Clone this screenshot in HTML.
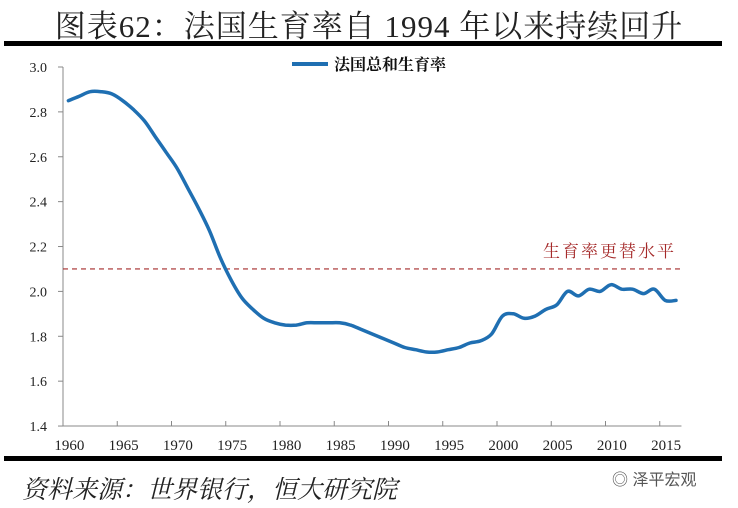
<!DOCTYPE html>
<html><head><meta charset="utf-8"><style>
body{margin:0;background:#fff;width:738px;height:508px;overflow:hidden;position:relative;font-family:"Liberation Serif","Noto Serif CJK SC",serif}
.t{position:absolute;left:0;width:738px;text-align:center;top:1px;font-size:31px;color:#222;letter-spacing:1px}
.bar{position:absolute;background:#000}
.src{position:absolute;left:22px;top:470px;font-size:25px;font-style:italic;color:#222;font-family:"Liberation Serif","Noto Serif CJK SC",serif}
.wm{position:absolute;left:612px;top:466px;font-size:16px;color:#555;font-family:"Liberation Sans","Noto Sans CJK SC",sans-serif}
</style></head><body>
<div class="t">图表62：法国生育率自 1994 年以来持续回升</div>
<div class="bar" style="left:4px;top:41px;width:718px;height:5px"></div>
<svg id="c" width="738" height="508" style="position:absolute;left:0;top:0"></svg>
<div class="bar" style="left:4px;top:456px;width:718px;height:5px"></div>
<div class="src">资料来源：世界银行，恒大研究院</div>
<div class="wm">◎ 泽平宏观</div>
<script>
const years=[];for(let y=1960;y<=2016;y++)years.push(y);
const tfr=[2.85,2.87,2.89,2.89,2.88,2.85,2.81,2.76,2.69,2.62,2.55,2.46,2.37,2.27,2.15,2.05,1.97,1.92,1.88,1.86,1.85,1.85,1.86,1.86,1.86,1.86,1.85,1.83,1.81,1.79,1.77,1.75,1.74,1.73,1.73,1.74,1.75,1.77,1.78,1.81,1.89,1.90,1.88,1.89,1.92,1.94,2.00,1.98,2.01,2.00,2.03,2.01,2.01,1.99,2.01,1.96,1.96];
const yTicks=[1.4,1.6,1.8,2.0,2.2,2.4,2.6,2.8,3.0];
const xLabels=[1960,1965,1970,1975,1980,1985,1990,1995,2000,2005,2010,2015];
const replacement=[2.1];
const NS='http://www.w3.org/2000/svg',svg=document.getElementById('c');
const X0=63,step=10.85,X1=X0+years.length*step;
const xs=i=>X0+(i+0.5)*step, ys=v=>67+(3.0-v)*224.4;
function mk(t,a,txt){const e=document.createElementNS(NS,t);for(const k in a)e.setAttribute(k,a[k]);if(txt!=null)e.textContent=txt;svg.appendChild(e);return e;}
let e=mk('line',{x1:X0,y1:ys(3.0),x2:X0,y2:ys(1.4),stroke:'#888'});


e=mk('line',{x1:X0,y1:ys(1.4),x2:X1,y2:ys(1.4),stroke:'#888'});


yTicks.forEach(v=>{mk('line',{x1:X0-5,y1:ys(v),x2:X0,y2:ys(v),stroke:'#888'});
const t=mk('text',{x:X0-16,y:ys(v)+5,'text-anchor':'end','font-size':14,fill:'#222','font-family':'Liberation Serif,serif'},v.toFixed(1));

});
xLabels.forEach(y=>{const i=years.indexOf(y);mk('line',{x1:X0+i*step,y1:ys(1.4),x2:X0+i*step,y2:ys(1.4)-5,stroke:'#888'});
const t=mk('text',{x:xs(i)+1,y:450,'text-anchor':'middle','font-size':15,fill:'#222','font-family':'Liberation Serif,serif'},y);

});
replacement.forEach(v=>{const l=mk('line',{x1:X0,y1:ys(v),x2:X1,y2:ys(v),stroke:'#a52a2a','stroke-width':1.2,'stroke-dasharray':'5,4'});


const t=mk('text',{x:676,y:ys(v)-12,'text-anchor':'end','font-size':17,fill:'#a52a2a','font-family':'Noto Serif CJK SC,serif','letter-spacing':2},'生育率更替水平');

});
const pts=tfr.map((v,i)=>[xs(i),ys(v)]);
let d='M'+pts[0][0].toFixed(1)+' '+pts[0][1].toFixed(1);
for(let i=0;i<pts.length-1;i++){const p0=pts[Math.max(0,i-1)],p1=pts[i],p2=pts[i+1],p3=pts[Math.min(pts.length-1,i+2)];
d+=' C'+(p1[0]+(p2[0]-p0[0])/6).toFixed(1)+' '+(p1[1]+(p2[1]-p0[1])/6).toFixed(1)+' '+(p2[0]-(p3[0]-p1[0])/6).toFixed(1)+' '+(p2[1]-(p3[1]-p1[1])/6).toFixed(1)+' '+p2[0].toFixed(1)+' '+p2[1].toFixed(1);}
const p=mk('path',{d:d,fill:'none',stroke:'#1f6fb2','stroke-width':3.5,'stroke-linejoin':'round','stroke-linecap':'round'});


const ll=mk('line',{x1:292,y1:64,x2:328,y2:64,stroke:'#1f6fb2','stroke-width':4});


const lt=mk('text',{x:334,y:70,'font-size':16,'font-weight':'bold',fill:'#111','font-family':'Noto Serif CJK SC,serif'},'法国总和生育率');


</script>
</body></html>
